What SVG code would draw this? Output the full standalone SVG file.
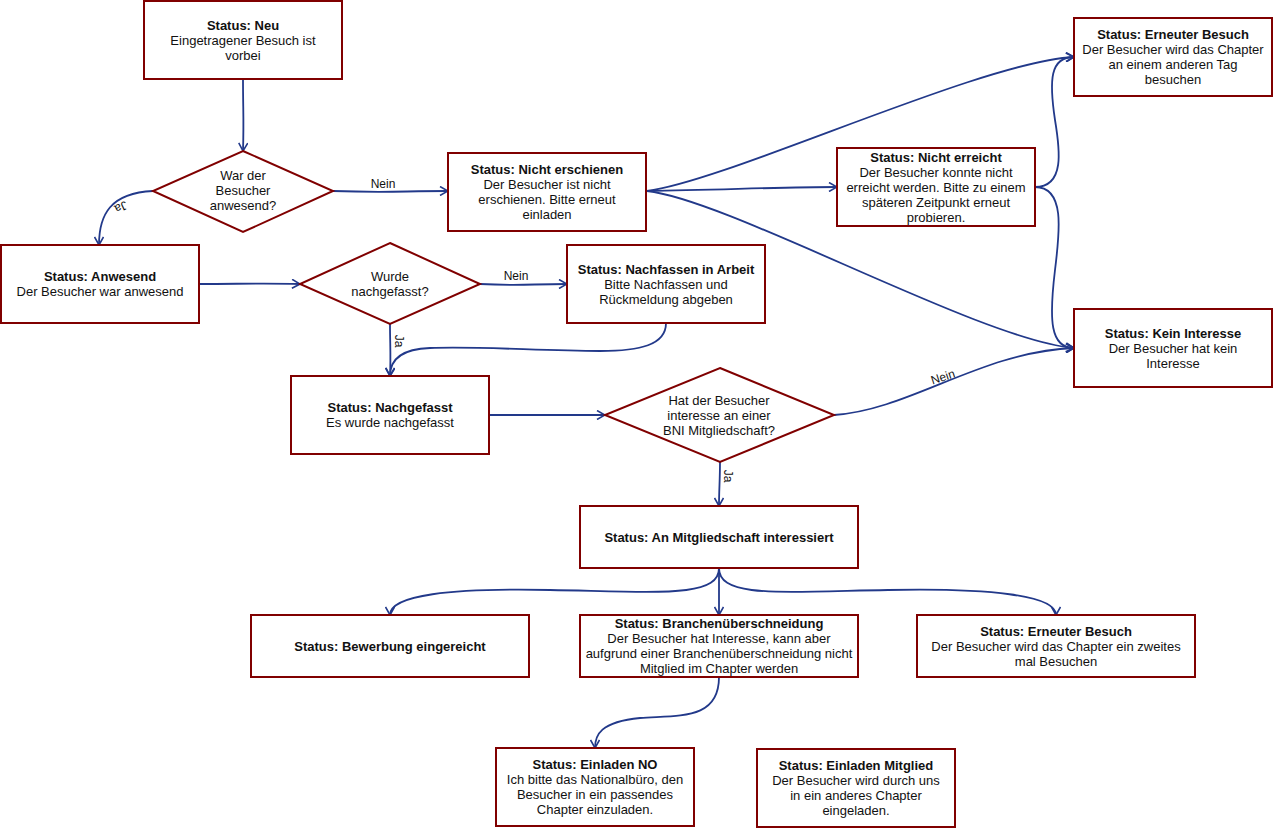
<svg xmlns="http://www.w3.org/2000/svg" width="1273" height="828" viewBox="0 0 1273 828">
<defs>
<marker id="arr" viewBox="0 0 10 10" refX="9" refY="5" markerWidth="10" markerHeight="10" markerUnits="userSpaceOnUse" orient="auto">
<path d="M1,0.5 L9,5 L1,9.5" fill="none" stroke="#22398a" stroke-width="1.6"/>
</marker>
</defs>
<style>
.box{fill:#fff;stroke:#800000;stroke-width:2}
.t{font-family:"Liberation Sans",Arial,sans-serif;font-size:13px;fill:#111;text-anchor:middle}
.b{font-weight:bold}
.c{fill:none;stroke:#22398a;stroke-width:1.8;marker-end:url(#arr)}
.l{font-family:"Liberation Sans",Arial,sans-serif;font-size:12px;fill:#111;text-anchor:middle}
</style>
<rect width="1273" height="828" fill="#fff"/>
<g id="connectors">
<path class="c" d="M243 79 C243 110 244 120 243 151"/>
<path class="c" d="M153 191 C110 193 99 215 99 245"/>
<path class="c" d="M333 191 C390 193 400 191 448 191"/>
<path class="c" d="M199 284 C240 284 260 283 300 284"/>
<path class="c" d="M480 284 C520 286 530 284 567 284"/>
<path class="c" d="M390 324 C390 345 391 355 390 376"/>
<path class="c" d="M666 323 C666 345 640 351 600 351 C540 351 480 346 430 348 C400 349 390 360 390 376"/>
<path class="c" d="M489 415 L605 415"/>
<path class="c" d="M720 462 C720 480 719 490 719 506"/>
<path class="c" d="M834 415 C910 410 980 352 1074 348"/>
<path class="c" d="M647 191 C730 180 980 62 1074 57"/>
<path class="c" d="M647 191 C720 190 780 187 837 187"/>
<path class="c" d="M647 191 C730 200 980 340 1074 348"/>
<path class="c" d="M1035 187 C1065 187 1060 150 1055 120 C1049 80 1050 57 1074 57"/>
<path class="c" d="M1035 187 C1065 187 1060 230 1055 270 C1049 320 1050 348 1074 348"/>
<path class="c" d="M719 568 C719 598 660 592 550 590 C450 588 390 595 390 615"/>
<path class="c" d="M719 568 L719 615"/>
<path class="c" d="M719 568 C719 598 778 592 888 590 C988 588 1056 595 1056 615"/>
<path class="c" d="M719 677 C719 720 680 715 640 718 C600 722 595 735 595 748"/>
<text class="l" transform="translate(121,207) rotate(155)" dy="4">Ja</text>
<text class="l" x="383" y="188">Nein</text>
<text class="l" x="516" y="280">Nein</text>
<text class="l" transform="translate(399,341) rotate(90)" dy="4">Ja</text>
<text class="l" transform="translate(728,476) rotate(90)" dy="4">Ja</text>
<text class="l" transform="translate(943,377) rotate(-18)" dy="4">Nein</text>
</g>
<g id="n-neu"><rect class="box" x="144" y="1" width="198" height="78"/>
<text class="t" x="243"><tspan class="b" x="243" y="30">Status: Neu</tspan><tspan x="243" y="45">Eingetragener Besuch ist</tspan><tspan x="243" y="60">vorbei</tspan></text></g>
<g id="d-anwesend"><polygon class="box" points="243,151 333,191 243,232 153,191"/>
<text class="t"><tspan x="243" y="180">War der</tspan><tspan x="243" y="195">Besucher</tspan><tspan x="243" y="210">anwesend?</tspan></text></g>
<g id="n-nichterschienen"><rect class="box" x="448" y="153" width="198" height="78"/>
<text class="t"><tspan class="b" x="547" y="174">Status: Nicht erschienen</tspan><tspan x="547" y="189">Der Besucher ist nicht</tspan><tspan x="547" y="204">erschienen. Bitte erneut</tspan><tspan x="547" y="219">einladen</tspan></text></g>
<g id="n-anwesend"><rect class="box" x="1" y="245" width="198" height="78"/>
<text class="t"><tspan class="b" x="100" y="281">Status: Anwesend</tspan><tspan x="100" y="296">Der Besucher war anwesend</tspan></text></g>
<g id="d-nachgefasst"><polygon class="box" points="390,243 480,284 390,324 300,284"/>
<text class="t"><tspan x="390" y="281">Wurde</tspan><tspan x="390" y="296">nachgefasst?</tspan></text></g>
<g id="n-nachfassen"><rect class="box" x="567" y="245" width="198" height="78"/>
<text class="t"><tspan class="b" x="666" y="274">Status: Nachfassen in Arbeit</tspan><tspan x="666" y="289">Bitte Nachfassen und</tspan><tspan x="666" y="304">Rückmeldung abgeben</tspan></text></g>
<g id="n-erneut1"><rect class="box" x="1074" y="18" width="198" height="78"/>
<text class="t"><tspan class="b" x="1173" y="39">Status: Erneuter Besuch</tspan><tspan x="1173" y="54">Der Besucher wird das Chapter</tspan><tspan x="1173" y="69">an einem anderen Tag</tspan><tspan x="1173" y="84">besuchen</tspan></text></g>
<g id="n-nichterreicht"><rect class="box" x="837" y="148" width="198" height="78"/>
<text class="t"><tspan class="b" x="936" y="162">Status: Nicht erreicht</tspan><tspan x="936" y="177">Der Besucher konnte nicht</tspan><tspan x="936" y="192">erreicht werden. Bitte zu einem</tspan><tspan x="936" y="207">späteren Zeitpunkt erneut</tspan><tspan x="936" y="222">probieren.</tspan></text></g>
<g id="n-keininteresse"><rect class="box" x="1074" y="309" width="198" height="78"/>
<text class="t"><tspan class="b" x="1173" y="338">Status: Kein Interesse</tspan><tspan x="1173" y="353">Der Besucher hat kein</tspan><tspan x="1173" y="368">Interesse</tspan></text></g>
<g id="n-nachgefasst"><rect class="box" x="291" y="376" width="198" height="78"/>
<text class="t"><tspan class="b" x="390" y="412">Status: Nachgefasst</tspan><tspan x="390" y="427">Es wurde nachgefasst</tspan></text></g>
<g id="d-interesse"><polygon class="box" points="720,368 834,415 720,462 605,415"/>
<text class="t"><tspan x="719" y="405">Hat der Besucher</tspan><tspan x="719" y="420">interesse an einer</tspan><tspan x="719" y="435">BNI Mitgliedschaft?</tspan></text></g>
<g id="n-mitgliedschaft"><rect class="box" x="580" y="506" width="278" height="62"/>
<text class="t"><tspan class="b" x="719" y="542">Status: An Mitgliedschaft interessiert</tspan></text></g>
<g id="n-bewerbung"><rect class="box" x="251" y="615" width="278" height="62"/>
<text class="t"><tspan class="b" x="390" y="651">Status: Bewerbung eingereicht</tspan></text></g>
<g id="n-branchen"><rect class="box" x="580" y="615" width="278" height="62"/>
<text class="t"><tspan class="b" x="719" y="628">Status: Branchenüberschneidung</tspan><tspan x="719" y="643">Der Besucher hat Interesse, kann aber</tspan><tspan x="719" y="658">aufgrund einer Branchenüberschneidung nicht</tspan><tspan x="719" y="673">Mitglied im Chapter werden</tspan></text></g>
<g id="n-erneut2"><rect class="box" x="917" y="615" width="278" height="62"/>
<text class="t"><tspan class="b" x="1056" y="636">Status: Erneuter Besuch</tspan><tspan x="1056" y="651">Der Besucher wird das Chapter ein zweites</tspan><tspan x="1056" y="666">mal Besuchen</tspan></text></g>
<g id="n-einladenno"><rect class="box" x="496" y="748" width="198" height="78"/>
<text class="t"><tspan class="b" x="595" y="769">Status: Einladen NO</tspan><tspan x="595" y="784">Ich bitte das Nationalbüro, den</tspan><tspan x="595" y="799">Besucher in ein passendes</tspan><tspan x="595" y="814">Chapter einzuladen.</tspan></text></g>
<g id="n-einladenmitglied"><rect class="box" x="757" y="749" width="198" height="78"/>
<text class="t"><tspan class="b" x="856" y="770">Status: Einladen Mitglied</tspan><tspan x="856" y="785">Der Besucher wird durch uns</tspan><tspan x="856" y="800">in ein anderes Chapter</tspan><tspan x="856" y="815">eingeladen.</tspan></text></g>
</svg>
